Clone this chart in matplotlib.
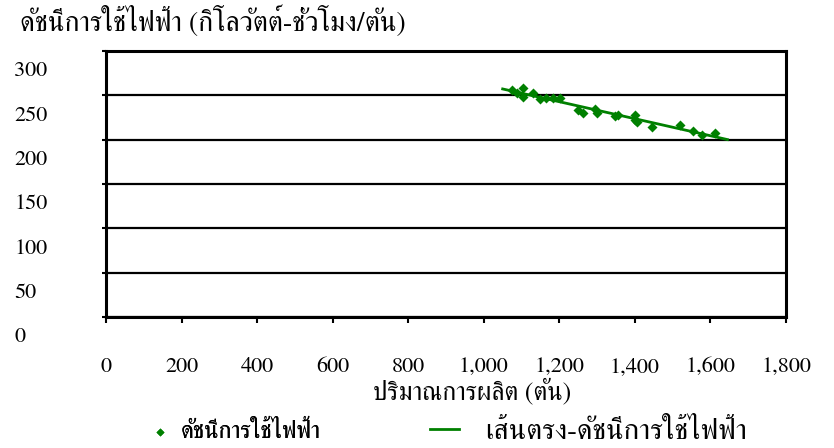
import numpy as np
import matplotlib
matplotlib.use('Agg')
import matplotlib.pyplot as plt
import matplotlib.transforms as mtransforms
from matplotlib.ticker import MultipleLocator, FuncFormatter

plt.rcParams['font.family'] = ['FreeSerif', 'Liberation Serif', 'DejaVu Serif']

# production (tons) vs electricity index (kWh/ton)
production = [1074, 1087, 1105, 1105, 1131, 1149, 1165, 1182, 1202, 1250, 1262,
              1294, 1299, 1347, 1356, 1400, 1400, 1405, 1444, 1519, 1554, 1577, 1612]
elec_index = [256, 253, 258, 248, 253, 246, 247, 247, 247, 234, 230,
              235, 230, 227, 228, 228, 222, 220, 214, 216, 210, 205, 208]
trend_range = [1050, 1645]

y_title = 'ดัชนีการใช้ไฟฟ้า (กิโลวัตต์-ชั่วโมง/ตัน)'
x_title = 'ปริมาณการผลิต (ตัน)'
lbl_points = 'ดัชนีการใช้ไฟฟ้า'
lbl_trend = 'เส้นตรง-ดัชนีการใช้ไฟฟ้า'

GREEN = '#008000'
W, H = 834, 448


def fx(px):
    return px / W


def fy(py):
    return 1 - py / H


fig = plt.figure(figsize=(W / 100, H / 100), dpi=100)
ax = fig.add_axes([fx(106), fy(317), fx(786) - fx(106), fy(51) - fy(317)])

x = np.array(production, dtype=float)
y = np.array(elec_index, dtype=float)
slope, icpt = np.polyfit(x, y, 1)
tx = np.array(trend_range, dtype=float)

pts = ax.scatter(x, y, marker='D', s=26, color=GREEN, zorder=3, linewidths=0)
trend, = ax.plot(tx, slope * tx + icpt, color=GREEN, lw=2, zorder=4)

ax.set_xlim(0, 1800)
ax.set_ylim(0, 300)
ax.xaxis.set_major_locator(MultipleLocator(200))
ax.yaxis.set_major_locator(MultipleLocator(50))
ax.xaxis.set_major_formatter(FuncFormatter(lambda v, p: f'{int(v):,}'))
ax.grid(axis='y', color='black', lw=1.6)
ax.set_axisbelow(True)
for s in ax.spines.values():
    s.set_linewidth(2.2)
    s.set_color('black')

ax.tick_params(axis='y', direction='out', length=3, width=1.5, pad=63,
               labelsize=16)
ax.tick_params(axis='x', direction='out', length=4, width=1.5, pad=25,
               labelsize=16)
shift = mtransforms.ScaledTranslation(0, -18 / 100, fig.dpi_scale_trans)
for lab in ax.get_yticklabels():
    lab.set_horizontalalignment('left')
    lab.set_transform(lab.get_transform() + shift)

ax.set_xlabel(x_title, fontsize=18.5, va='center')
ax.xaxis.set_label_coords((472 - 106) / 680, -(392 - 317) / 266)

fig.text(fx(20), fy(21), y_title, fontsize=20, ha='left', va='center')

leg1 = fig.legend([pts], [lbl_points], loc='center left',
                  bbox_to_anchor=(fx(154), fy(432)), frameon=False,
                  fontsize=17.3, handlelength=0.5, handletextpad=0.6,
                  borderpad=0, borderaxespad=0, scatterpoints=1, markerscale=0.8)
fig.add_artist(leg1)
fig.legend([trend], [lbl_trend], loc='center left',
           bbox_to_anchor=(fx(430), fy(432)), frameon=False,
           fontsize=21, handlelength=1.0, handletextpad=0.9,
           borderpad=0, borderaxespad=0)

fig.savefig('out.png', dpi=100)
